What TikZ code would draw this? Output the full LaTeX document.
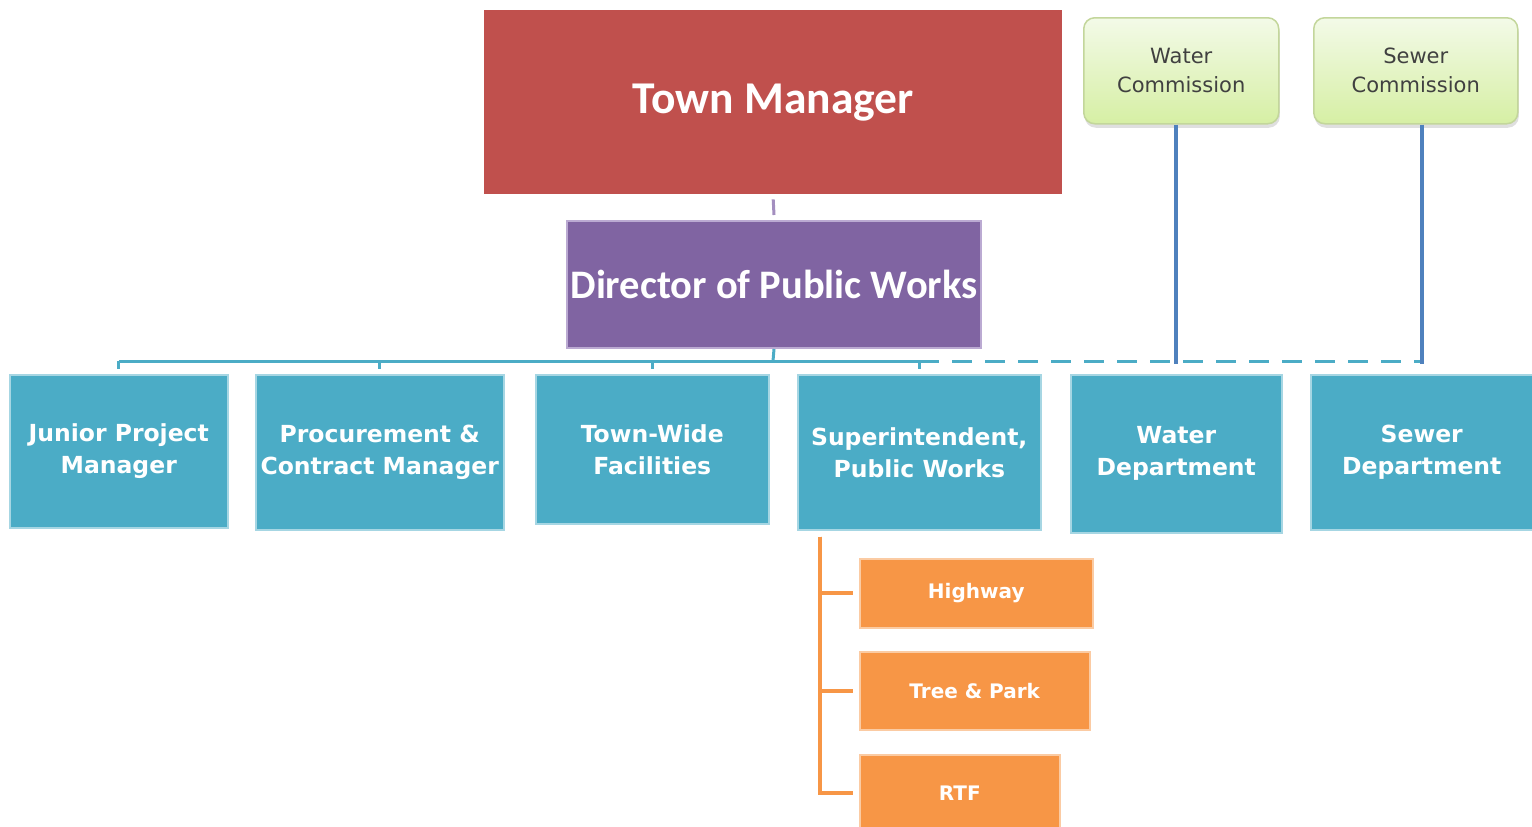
\documentclass[tikz,border=0pt]{standalone}
\usepackage{fontspec}
\setmainfont{Carlito}
\newfontfamily\boxfont{DejaVu Sans}
\usepackage{tikz}
\usetikzlibrary{shadows}

\definecolor{tmred}{HTML}{C0504D}
\definecolor{dpwpurple}{HTML}{8064A2}
\definecolor{dpwedge}{HTML}{BBAAD2}
\definecolor{deptblue}{HTML}{4BACC6}
\definecolor{deptedge}{HTML}{A6D6E3}
\definecolor{suborange}{HTML}{F79646}
\definecolor{subedge}{HTML}{FBCBA3}
\definecolor{comtop}{HTML}{F3FAE8}
\definecolor{combottom}{HTML}{D6EFA4}
\definecolor{comedge}{HTML}{C3D69B}
\definecolor{comtext}{HTML}{404040}
\definecolor{comblue}{HTML}{4F81BD}

\tikzset{
  headbox/.style={fill=tmred, text=white, anchor=north west,
    font=\bfseries\fontsize{45.5}{54}\selectfont},
  dirbox/.style={fill=dpwpurple, draw=dpwedge, line width=2pt, text=white, anchor=north west,
    font=\bfseries\fontsize{40.5}{48}\selectfont},
  combox/.style={rounded corners=11pt, draw=comedge, line width=1.5pt,
    top color=comtop, bottom color=combottom, text=comtext, align=center, anchor=north west,
    drop shadow={shadow xshift=1pt, shadow yshift=-4pt, fill=black!25},
    font=\boxfont\fontsize{21}{29}\selectfont},
  deptbox/.style={fill=deptblue, draw=deptedge, line width=1.5pt, text=white, align=center,
    anchor=north west, font=\boxfont\bfseries\fontsize{23.5}{32}\selectfont},
  subbox/.style={fill=suborange, draw=subedge, line width=1.5pt, text=white, anchor=north west,
    font=\boxfont\bfseries\fontsize{20}{24}\selectfont},
  tmlink/.style={draw=dpwedge!60!dpwpurple, line width=3pt},
  buslink/.style={draw=deptblue, line width=3pt},
  dashbus/.style={dash pattern=on 20pt off 13pt},
  comlink/.style={draw=comblue, line width=4pt},
  sublink/.style={draw=suborange, line width=4pt}
}

\begin{document}
\begin{tikzpicture}[x=1pt, y=-1pt, inner sep=0pt]
  \useasboundingbox (0,0) rectangle (1532,827);

  \node[headbox, minimum width=578pt, minimum height=184pt] (tm) at (484,10) {Town Manager};
  \node[dirbox, minimum width=414pt, minimum height=127pt] (dpw) at (566,220) {Director of Public Works};

  \node[combox, minimum width=195pt, minimum height=106pt] (wc) at (1083,17) {Water\\Commission};
  \node[combox, minimum width=204pt, minimum height=106pt] (sc) at (1313,17) {Sewer\\Commission};

  \node[deptbox, minimum width=218pt, minimum height=153pt] (jpm) at (9,374) {Junior Project\\Manager};
  \node[deptbox, minimum width=248pt, minimum height=155pt] (pcm) at (255,374) {Procurement \&\\Contract Manager};
  \node[deptbox, minimum width=233pt, minimum height=149pt] (twf) at (535,374) {Town-Wide\\Facilities};
  \node[deptbox, minimum width=243pt, minimum height=155pt] (spw) at (797,374) {Superintendent,\\Public Works};
  \node[deptbox, minimum width=211pt, minimum height=158pt] (wdp) at (1070,374) {Water\\Department};
  \node[deptbox, minimum width=222pt, minimum height=155pt] (sdp) at (1310,374) {Sewer\\Department};

  \node[subbox, minimum width=233pt, minimum height=69pt] (hw) at (859,558) {Highway};
  \node[subbox, minimum width=230pt, minimum height=78pt] (tp) at (859,651) {Tree \& Park};
  \node[subbox, minimum width=200pt, minimum height=76pt] (rtf) at (859,754) {RTF};

  \draw[tmlink] ([yshift=-5pt]tm.south) -- ([yshift=5pt]dpw.north);

  \coordinate (bus) at (773,361);
  \draw[buslink] (dpw.south) -- (bus);
  \draw[buslink] (jpm.north |- bus) -- (spw.north |- bus);
  \foreach \n in {jpm,pcm,twf,spw}
    \draw[buslink] (\n.north |- bus) -- ([yshift=5pt]\n.north);
  \draw[buslink, dashbus] (spw.north |- bus) -- (sdp.north |- bus);

  \draw[comlink] (wc.south -| wdp.north) -- ([yshift=-3pt]wdp.north |- bus);
  \draw[comlink] (sc.south -| sdp.north) -- ([yshift=-3pt]sdp.north |- bus);

  \coordinate (subtop) at ([xshift=23pt, yshift=-6pt]spw.south west);
  \foreach \n in {hw,tp,rtf}
    \draw[sublink] (subtop) |- ([xshift=-6pt]\n.west);

\end{tikzpicture}
\end{document}
